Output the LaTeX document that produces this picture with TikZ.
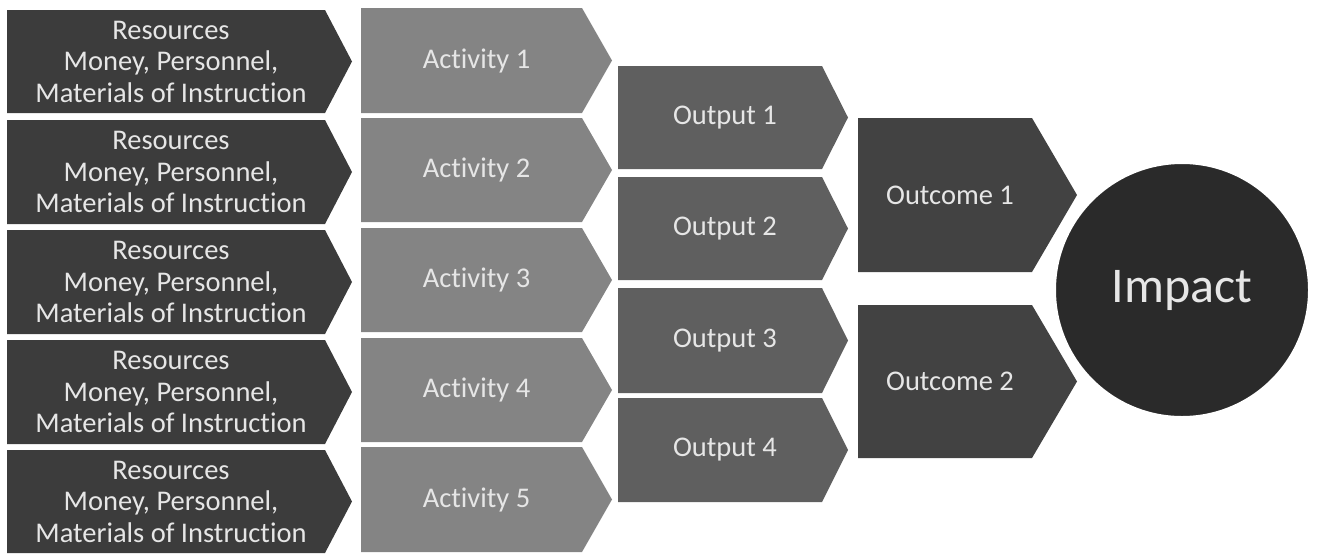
\documentclass[tikz,border=0pt]{standalone}
\usepackage{fontspec}
\setmainfont{Carlito}[Ligatures=NoCommon]
\definecolor{rescol}{HTML}{3C3C3C}
\definecolor{actcol}{HTML}{848484}
\definecolor{outcol}{HTML}{5F5F5F}
\definecolor{ocmcol}{HTML}{424242}
\definecolor{impcol}{HTML}{2A2A2A}
\definecolor{txtcol}{HTML}{E6E6E6}
\tikzset{
  lbl/.style={text=txtcol, align=center, inner sep=0pt, font=\fontsize{28.5}{31.5}\selectfont},
  biglbl/.style={text=txtcol, inner sep=0pt, font=\fontsize{50}{56}\selectfont},
}
% #1 name, #2 left x, #3 top y, #4 rect right x, #5 bottom y, #6 tip x, #7 fill, #8 text
\newcommand\chevshape[8]{%
  \fill[#7] (#2,-#3) -- (#4,-#3) -- (#6,{-(#3+#5)/2}) -- (#4,-#5) -- (#2,-#5) -- cycle;
  \node[lbl] (#1) at ({(#2+#4)/2+5},{-(#3+#5)/2}) {#8};}
\begin{document}
\begin{tikzpicture}[x=1pt,y=1pt]
\useasboundingbox (0,0) rectangle (1317,-555);
% Resources
\chevshape{r1}{7}{10}{325}{113}{352}{rescol}{Resources\\Money, Personnel,\\Materials of Instruction}
\chevshape{r2}{7}{120}{325}{224}{352}{rescol}{Resources\\Money, Personnel,\\Materials of Instruction}
\chevshape{r3}{7}{230}{325}{334}{352}{rescol}{Resources\\Money, Personnel,\\Materials of Instruction}
\chevshape{r4}{7}{340}{325}{444}{352}{rescol}{Resources\\Money, Personnel,\\Materials of Instruction}
\chevshape{r5}{7}{450}{325}{553}{352}{rescol}{Resources\\Money, Personnel,\\Materials of Instruction}
% Activities
\chevshape{a1}{361}{8}{582}{113}{612}{actcol}{Activity 1}
\chevshape{a2}{361}{118}{582}{222}{612}{actcol}{Activity 2}
\chevshape{a3}{361}{228}{582}{332}{612}{actcol}{Activity 3}
\chevshape{a4}{361}{338}{582}{442}{612}{actcol}{Activity 4}
\chevshape{a5}{361}{447}{582}{552}{612}{actcol}{Activity 5}
% Outputs
\chevshape{o1}{618}{66}{822}{169}{848}{outcol}{Output 1}
\chevshape{o2}{618}{177}{822}{280}{848}{outcol}{Output 2}
\chevshape{o3}{618}{288}{822}{393}{848}{outcol}{Output 3}
\chevshape{o4}{618}{398}{822}{502}{848}{outcol}{Output 4}
% Outcomes
\chevshape{c1}{858}{118}{1032}{272}{1077}{ocmcol}{Outcome 1}
\chevshape{c2}{858}{305}{1032}{458}{1077}{ocmcol}{Outcome 2}
% Impact
\fill[impcol, draw=white, line width=2pt] (1182,-290) circle (127);
\node[biglbl] (imp) at (1182,-290) {Impact};
\end{tikzpicture}
\end{document}
